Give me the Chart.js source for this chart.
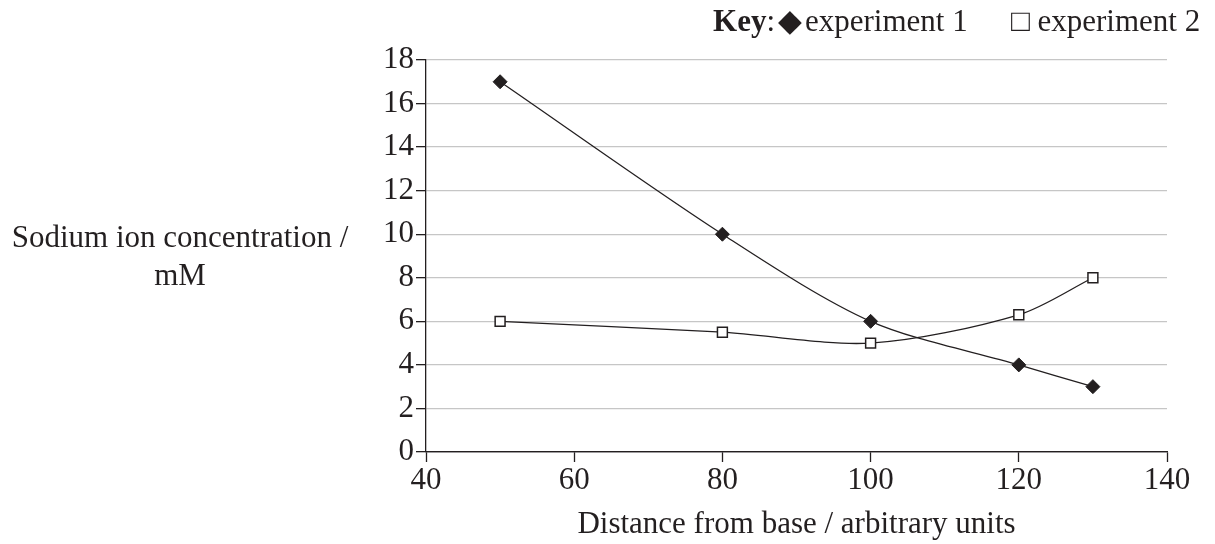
<!DOCTYPE html>
<html>
<head>
<meta charset="utf-8">
<script src="https://cdn.jsdelivr.net/npm/chart.js@4"></script>
<style>
  html, body { margin: 0; padding: 0; background: #fff; }
  #wrap { width: 1215px; height: 544px; position: relative; }
</style>
</head>
<body>
<div id="wrap"><canvas id="chart"></canvas></div>
<script>
// data
const distance = [50, 80, 100, 120, 130];
const experiment1 = [17, 10, 6, 4, 3];
const experiment2 = [6, 5.5, 5, 6.3, 8];
const xTicks = [40, 60, 80, 100, 120, 140];
const yTicks = [0, 2, 4, 6, 8, 10, 12, 14, 16, 18];

const serif = "'Liberation Serif', 'Times New Roman', serif";
const ink = "#231f20";
const fontSize = 31;

// key + axis titles (the y title is horizontal in the original, so draw by hand)
const labelsPlugin = {
  id: 'labels',
  afterDraw(chart) {
    const ctx = chart.ctx;
    const area = chart.chartArea;
    ctx.save();
    ctx.fillStyle = ink;
    ctx.textBaseline = 'alphabetic';

    ctx.font = fontSize + "px " + serif;
    ctx.textAlign = 'center';
    ctx.fillText("Sodium ion concentration /", 180, 247);
    ctx.fillText("mM", 180, 285);

    ctx.fillText("Distance from base / arbitrary units", (area.left + area.right) / 2, 533);

    // key
    ctx.textAlign = 'right';
    ctx.font = fontSize + "px " + serif;
    const colonW = ctx.measureText(":").width;
    ctx.fillText(":", 775, 31);
    ctx.font = "bold " + fontSize + "px " + serif;
    ctx.fillText("Key", 775 - colonW, 31);
    ctx.textAlign = 'left';
    ctx.font = fontSize + "px " + serif;
    ctx.fillText("\u25C6", 778, 31);
    ctx.fillText("experiment 1", 805, 31);
    ctx.fillText("\u25A1", 1011, 31);
    ctx.fillText("experiment 2", 1011 + ctx.measureText("\u25A1 ").width, 31);
    ctx.restore();
  }
};

new Chart(document.getElementById("chart"), {
  type: 'line',
  data: {
    datasets: [{
      label: "experiment 1",
      data: distance.map((d, i) => ({x: d, y: experiment1[i]})),
      borderColor: ink,
      borderWidth: 1.3,
      pointStyle: 'rectRot',
      pointRadius: 7,
      pointBackgroundColor: ink,
      pointBorderColor: ink,
      pointBorderWidth: 1,
      tension: 0.3,
      fill: false
    }, {
      label: "experiment 2",
      data: distance.map((d, i) => ({x: d, y: experiment2[i]})),
      borderColor: ink,
      borderWidth: 1.3,
      pointStyle: 'rect',
      pointRadius: 7,
      pointBackgroundColor: "#fff",
      pointBorderColor: ink,
      pointBorderWidth: 1.5,
      tension: 0.3,
      fill: false
    }]
  },
  options: {
    responsive: true,
    maintainAspectRatio: false,
    animation: false,
    layout: { padding: { left: 360, top: 60, right: 48, bottom: 0 } },
    plugins: {
      legend: { display: false },
      tooltip: { enabled: false }
    },
    scales: {
      x: {
        type: 'linear',
        min: 40, max: 140,
        afterBuildTicks: s => { s.ticks = xTicks.map(v => ({value: v})); },
        afterFit: s => { s.height = 92; },
        border: { color: ink, width: 1.3 },
        grid: { drawOnChartArea: false, drawTicks: true, tickLength: 10, tickColor: ink, tickWidth: 1.3 },
        ticks: { color: ink, font: { family: serif, size: fontSize }, padding: 0, maxRotation: 0 }
      },
      y: {
        min: 0, max: 18,
        afterBuildTicks: s => { s.ticks = yTicks.map(v => ({value: v})); },
        afterFit: s => { s.width = 66; },
        border: { color: ink, width: 1.3 },
        grid: {
          color: ctx => ctx.tick && ctx.tick.value === 0 ? ink : "#c6c6c6",
          lineWidth: 1.3,
          drawTicks: true, tickLength: 10, tickColor: ink, tickWidth: 1.3
        },
        ticks: { color: ink, font: { family: serif, size: fontSize }, padding: 2 }
      }
    }
  },
  plugins: [labelsPlugin]
});
</script>
</body>
</html>
